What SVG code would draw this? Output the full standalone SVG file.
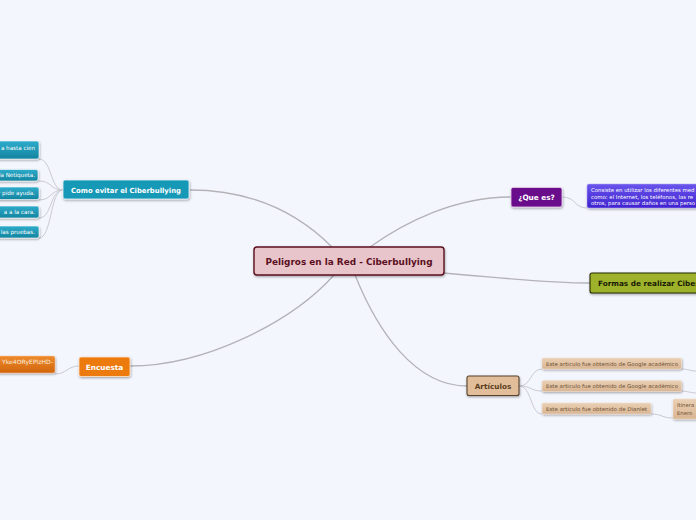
<svg xmlns="http://www.w3.org/2000/svg" width="696" height="520" viewBox="0 0 696 520">
<defs>
<filter id="sh" x="-20%" y="-30%" width="140%" height="170%">
<feDropShadow dx="0.6" dy="1.2" stdDeviation="0.8" flood-color="#000" flood-opacity="0.35"/>
</filter>
<linearGradient id="gTeal" x1="0" y1="0" x2="0" y2="1"><stop offset="0" stop-color="#2eaccb"/><stop offset="1" stop-color="#13849f"/></linearGradient>
<linearGradient id="gOrange" x1="0" y1="0" x2="0" y2="1"><stop offset="0" stop-color="#ef8a2e"/><stop offset="1" stop-color="#d0650c"/></linearGradient>
<linearGradient id="gBlue" x1="0" y1="0" x2="0" y2="1"><stop offset="0" stop-color="#6a55ec"/><stop offset="1" stop-color="#3f22cf"/></linearGradient>
<linearGradient id="gTan" x1="0" y1="0" x2="0" y2="1"><stop offset="0" stop-color="#ead0b4"/><stop offset="1" stop-color="#d9b593"/></linearGradient>
</defs>
<style>
.bg{fill:#f4f6fe}
.c{fill:none;stroke:#b3b3b8;stroke-width:1.3}
.cs{fill:none;stroke:#c9cad2;stroke-width:1}
.t{font-family:"DejaVu Sans","Verdana",sans-serif;font-weight:bold}
.s{font-family:"DejaVu Sans","Verdana",sans-serif}
.w{fill:#ffffff}
.leaf{fill:url(#gTeal);stroke:#ffffff;stroke-width:0.6}
.tan{fill:url(#gTan);stroke:#f2e2d0;stroke-width:0.5}
</style>
<rect class="bg" x="0" y="0" width="696" height="520"/>
<g id="connectors">
<path class="c" d="M332,247 C292,207 245,190 190,190"/>
<path class="c" d="M334,275 C292,322 205,366 130,366"/>
<path class="c" d="M370,247 C405,222 455,197 511,197"/>
<path class="c" d="M443,273 C505,278 545,283 590,283"/>
<path class="c" d="M355,275 C378,332 415,386 467,386"/>
<path class="cs" d="M63,190 C50,190 52,159 39,159"/>
<path class="cs" d="M63,190 C50,190 52,181 39,181"/>
<path class="cs" d="M63,190 C50,190 52,200 39,200"/>
<path class="cs" d="M63,190 C50,190 52,218 39,218"/>
<path class="cs" d="M63,190 C50,190 52,238 39,238"/>
<path class="cs" d="M79,366 C68,366 66,374 55,374"/>
<path class="cs" d="M562,197 C576,197 574,208 587,208"/>
<path class="cs" d="M519,386 C532,386 530,369 542,369"/>
<path class="cs" d="M519,386 C532,386 530,391 542,391"/>
<path class="cs" d="M519,386 C532,386 530,414 542,414"/>
<path class="cs" d="M681,369 C688,369 690,371 696,371"/>
<path class="cs" d="M681,391 C688,391 690,393 696,393"/>
<path class="cs" d="M651,414 C662,414 662,418 673,418"/>
</g>
<g id="center">
<rect x="254" y="247" width="190" height="28" rx="3" fill="#e8c5ca" stroke="#5b0f1f" stroke-width="1.4" filter="url(#sh)"/>
<text class="t" x="349" y="265.2" font-size="9" fill="#5b0f1f" text-anchor="middle" textLength="167" lengthAdjust="spacingAndGlyphs">Peligros en la Red - Ciberbullying</text>
</g>
<g id="como-evitar">
<rect x="63" y="180" width="126" height="19" rx="2" fill="#1798b7" stroke="#e8f4f8" stroke-width="0.8" filter="url(#sh)"/>
<text class="t w" x="126" y="192.5" font-size="7" text-anchor="middle" textLength="110" lengthAdjust="spacingAndGlyphs">Como evitar el Ciberbullying</text>
</g>
<g id="leaf1"><rect class="leaf" x="-5" y="141" width="44" height="18" rx="2" filter="url(#sh)"/><text class="s w" x="35" y="150" font-size="5.6" text-anchor="end">a hasta cien</text></g>
<g id="leaf2"><rect class="leaf" x="-5" y="169.5" width="43" height="11.5" rx="2" filter="url(#sh)"/><text class="s w" x="35" y="177.3" font-size="5.6" text-anchor="end">la Netiqueta.</text></g>
<g id="leaf3"><rect class="leaf" x="-5" y="187" width="44" height="12.5" rx="2" filter="url(#sh)"/><text class="s w" x="35" y="195" font-size="5.6" text-anchor="end">r pide ayuda.</text></g>
<g id="leaf4"><rect class="leaf" x="-5" y="206" width="44" height="12" rx="2" filter="url(#sh)"/><text class="s w" x="35" y="214" font-size="5.6" text-anchor="end">a a la cara.</text></g>
<g id="leaf5"><rect class="leaf" x="-5" y="226" width="44" height="12" rx="2" filter="url(#sh)"/><text class="s w" x="35" y="234" font-size="5.6" text-anchor="end">las pruebas.</text></g>
<g id="encuesta">
<rect x="79" y="357" width="51" height="19.5" rx="2" fill="#ec7a10" stroke="#fbe3cc" stroke-width="0.8" filter="url(#sh)"/>
<text class="t w" x="104.5" y="369.5" font-size="7.3" text-anchor="middle">Encuesta</text>
</g>
<g id="encuesta-link">
<rect x="-5" y="356" width="60" height="17" rx="2" fill="url(#gOrange)" stroke="#f6c9a0" stroke-width="0.5" filter="url(#sh)"/>
<text class="s" x="53" y="364" font-size="5.8" fill="#fbeede" text-anchor="end" textLength="51" lengthAdjust="spacingAndGlyphs">Yke4ORyEPlzHD-</text>
</g>
<g id="que-es">
<rect x="511" y="187.5" width="51" height="19.5" rx="2" fill="#6b0b8b" stroke="#e8d3ee" stroke-width="0.8" filter="url(#sh)"/>
<text class="t w" x="536.5" y="200" font-size="7.3" text-anchor="middle">¿Que es?</text>
</g>
<g id="que-es-desc">
<rect x="587" y="184" width="115" height="24" rx="2" fill="url(#gBlue)" stroke="#b9aef4" stroke-width="0.5" filter="url(#sh)"/>
<text class="s w" font-size="5.4"><tspan x="591" y="192">Consiste en utilizar los diferentes med</tspan><tspan x="591" y="198.5">como: el Internet, los teléfonos, las re</tspan><tspan x="591" y="205">otros, para causar daños en una perso</tspan></text>
</g>
<g id="formas">
<rect x="590" y="273" width="112" height="20" rx="2" fill="#9db22a" stroke="#262a06" stroke-width="1.1" filter="url(#sh)"/>
<text class="t" x="598" y="285.6" font-size="7.3" fill="#1a1a06">Formas de realizar Ciberb</text>
</g>
<g id="articulos">
<rect x="467" y="376" width="52" height="19.5" rx="2" fill="#e2bd99" stroke="#57432f" stroke-width="1.1" filter="url(#sh)"/>
<text class="t" x="493" y="388.5" font-size="7.3" fill="#5a3d22" text-anchor="middle">Artículos</text>
</g>
<g id="art1"><rect class="tan" x="542" y="358" width="139.5" height="11" rx="1.5" filter="url(#sh)"/><text class="s" x="546" y="365.6" font-size="5.3" fill="#6d5236" textLength="132" lengthAdjust="spacingAndGlyphs">Este articulo fue obtenido de Google académico</text></g>
<g id="art2"><rect class="tan" x="542" y="380.5" width="139.5" height="11" rx="1.5" filter="url(#sh)"/><text class="s" x="546" y="388" font-size="5.3" fill="#6d5236" textLength="132" lengthAdjust="spacingAndGlyphs">Este articulo fue obtenido de Google académico</text></g>
<g id="art3"><rect class="tan" x="542" y="403" width="109" height="11" rx="1.5" filter="url(#sh)"/><text class="s" x="546" y="410.6" font-size="5.3" fill="#6d5236" textLength="101" lengthAdjust="spacingAndGlyphs">Este articulo fue obtenido de Dianlet</text></g>
<g id="art3-ref"><rect class="tan" x="673" y="399" width="30" height="20" rx="1.5" filter="url(#sh)"/><text class="s" font-size="5.3" fill="#6d5236"><tspan x="677" y="407">Itinera</tspan><tspan x="677" y="414.5">Enero</tspan></text></g>
</svg>
